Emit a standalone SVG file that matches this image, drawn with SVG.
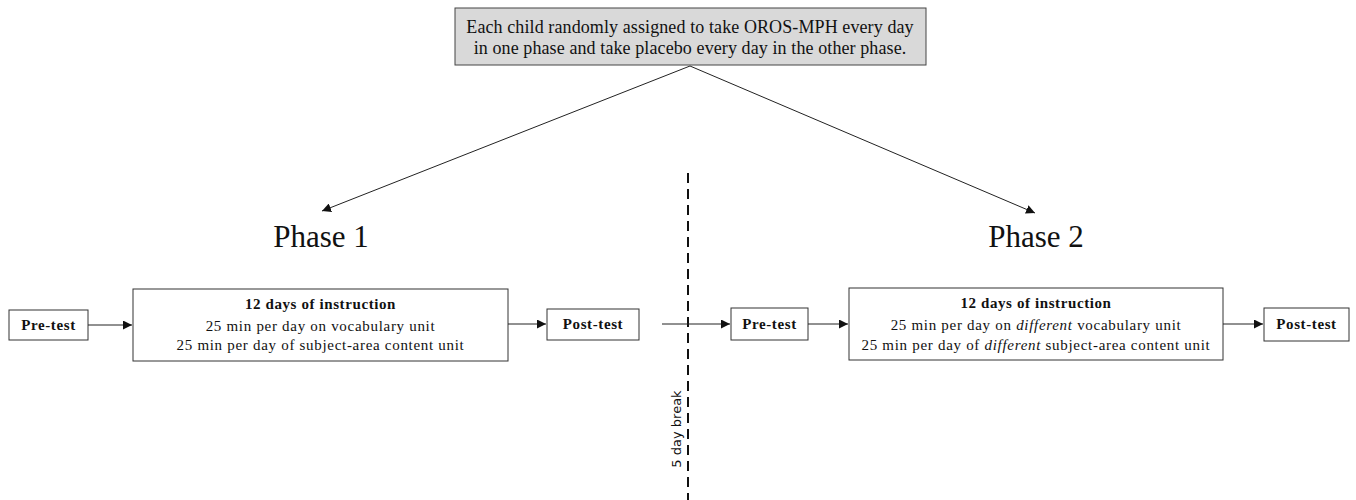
<svg xmlns="http://www.w3.org/2000/svg" width="1356" height="500" viewBox="0 0 1356 500">
<style>
text{font-family:"Liberation Serif","Times New Roman",serif;fill:#111}
.box{fill:#fff;stroke:#333;stroke-width:1}
.lbl{font-size:15px;text-anchor:middle;letter-spacing:0.7px}
.b{font-weight:bold;letter-spacing:0.6px}
.ph{font-size:31px;text-anchor:middle}
.ln{stroke:#222;stroke-width:1;fill:none}
</style>
<defs>
<marker id="ah" viewBox="0 0 10 10" refX="10" refY="5" markerWidth="9" markerHeight="9" markerUnits="userSpaceOnUse" orient="auto">
<path d="M0,0 L10,5 L0,10 z" fill="#111"/>
</marker>
</defs>
<g id="top">
<rect x="455" y="8" width="471" height="57" fill="#d9d9d9" stroke="#444"/>
<text x="690" y="33" style="font-size:18px;text-anchor:middle;letter-spacing:0.1px">Each child randomly assigned to take OROS-MPH every day</text>
<text x="690" y="54" style="font-size:18px;text-anchor:middle;letter-spacing:0.1px">in one phase and take placebo every day in the other phase.</text>
</g>
<g id="phase1"><text class="ph" x="321" y="247">Phase 1</text></g>
<g id="phase2"><text class="ph" x="1036" y="247">Phase 2</text></g>
<g id="pre1"><rect class="box" x="9" y="310" width="79" height="30"/><text class="lbl b" x="48.5" y="330">Pre-test</text></g>
<g id="instr1"><rect class="box" x="133" y="289" width="375" height="72"/>
<text class="lbl b" x="320.5" y="309">12 days of instruction</text>
<text class="lbl" x="320.5" y="331">25 min per day on vocabulary unit</text>
<text class="lbl" x="320.5" y="350">25 min per day of subject-area content unit</text></g>
<g id="post1"><rect class="box" x="547" y="309" width="92" height="31"/><text class="lbl b" x="593" y="329">Post-test</text></g>
<g id="pre2"><rect class="box" x="731" y="308" width="77" height="32"/><text class="lbl b" x="769.5" y="329">Pre-test</text></g>
<g id="instr2"><rect class="box" x="849" y="288" width="374" height="72"/>
<text class="lbl b" x="1036" y="308">12 days of instruction</text>
<text class="lbl" x="1036" y="330">25 min per day on <tspan font-style="italic">different</tspan> vocabulary unit</text>
<text class="lbl" x="1036" y="350">25 min per day of <tspan font-style="italic">different</tspan> subject-area content unit</text></g>
<g id="post2"><rect class="box" x="1264" y="308" width="85" height="33"/><text class="lbl b" x="1306.5" y="329">Post-test</text></g>
<g id="break">
<line x1="688" y1="173" x2="688" y2="500" stroke="#111" stroke-width="2" stroke-dasharray="10,6"/>
<text transform="translate(681,429) rotate(-90)" style="font-family:'DejaVu Sans','Liberation Sans',sans-serif;font-size:13px;text-anchor:middle">5 day break</text>
</g>
<g id="connectors">
<line class="ln" x1="690" y1="66" x2="322" y2="211" marker-end="url(#ah)"/>
<line class="ln" x1="690" y1="66" x2="1035" y2="213" marker-end="url(#ah)"/>
<line class="ln" x1="88" y1="325" x2="132" y2="325" marker-end="url(#ah)"/>
<line class="ln" x1="508" y1="324" x2="546" y2="324" marker-end="url(#ah)"/>
<line class="ln" x1="662" y1="324" x2="730" y2="324" marker-end="url(#ah)"/>
<line class="ln" x1="808" y1="324" x2="848" y2="324" marker-end="url(#ah)"/>
<line class="ln" x1="1223" y1="324" x2="1263" y2="324" marker-end="url(#ah)"/>
</g>
</svg>
